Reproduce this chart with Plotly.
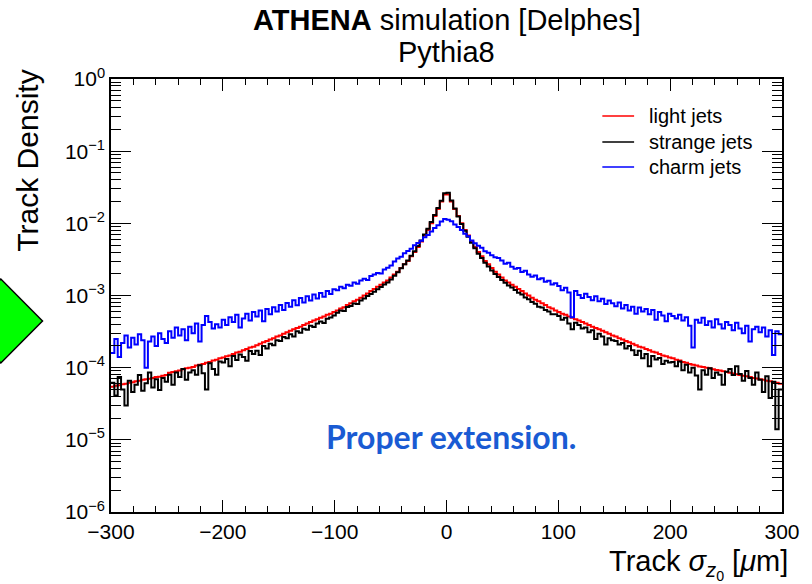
import plotly.graph_objects as go

# ---------------- data (bin width 3 um, from -300 to 300) ----------------
BIN_LO, BIN_HI, BIN_W = -300, 300, 3

light_jets = [
    5.45e-5, 5.6e-5, 5.7e-5, 5.9e-5, 6.0e-5, 6.2e-5, 6.3e-5, 6.5e-5, 6.6e-5, 6.8e-5, 6.9e-5, 7.0e-5, 7.2e-5, 7.4e-5, 7.5e-5, 7.7e-5, 7.9e-5,
    8.5e-5, 8.7e-5, 8.9e-5, 9.1e-5, 9.5e-5, 9.8e-5, 1.0e-4, 1.02e-4, 1.07e-4, 1.1e-4, 1.12e-4, 1.17e-4, 1.2e-4, 1.26e-4, 1.29e-4, 1.35e-4,
    1.38e-4, 1.44e-4, 1.48e-4, 1.55e-4, 1.62e-4, 1.66e-4, 1.74e-4, 1.82e-4, 1.9e-4, 1.95e-4, 2.05e-4, 2.15e-4, 2.25e-4, 2.35e-4, 2.45e-4, 2.55e-4, 2.7e-4,
    2.8e-4, 2.95e-4, 3.1e-4, 3.25e-4, 3.4e-4, 3.55e-4, 3.7e-4, 3.9e-4, 4.1e-4, 4.3e-4, 4.5e-4, 4.7e-4, 4.9e-4, 5.1e-4, 5.4e-4, 5.6e-4, 5.9e-4,
    6.2e-4, 6.6e-4, 6.9e-4, 7.4e-4, 7.8e-4, 8.3e-4, 8.7e-4, 9.3e-4, 1.0e-3, 1.07e-3, 1.15e-3, 1.23e-3, 1.32e-3, 1.41e-3, 1.51e-3, 1.62e-3, 1.78e-3,
    1.95e-3, 2.14e-3, 2.4e-3, 2.7e-3, 3.0e-3, 3.5e-3, 4.0e-3, 4.7e-3, 5.6e-3, 6.8e-3, 8.1e-3, 1.0e-2, 1.26e-2, 1.58e-2, 2.0e-2, 2.5e-2,
    2.5e-2, 2.0e-2, 1.58e-2, 1.26e-2, 1.0e-2, 8.1e-3, 6.8e-3, 5.6e-3, 4.7e-3, 4.0e-3, 3.5e-3, 3.0e-3, 2.7e-3, 2.4e-3, 2.14e-3, 1.95e-3,
    1.78e-3, 1.62e-3, 1.51e-3, 1.41e-3, 1.32e-3, 1.23e-3, 1.15e-3, 1.07e-3, 1.0e-3, 9.3e-4, 8.7e-4, 8.3e-4, 7.8e-4, 7.4e-4, 6.9e-4, 6.6e-4, 6.2e-4,
    5.9e-4, 5.6e-4, 5.4e-4, 5.1e-4, 4.9e-4, 4.7e-4, 4.5e-4, 4.3e-4, 4.1e-4, 3.9e-4, 3.7e-4, 3.55e-4, 3.4e-4, 3.25e-4, 3.1e-4, 2.95e-4, 2.8e-4,
    2.7e-4, 2.55e-4, 2.45e-4, 2.35e-4, 2.25e-4, 2.15e-4, 2.05e-4, 1.95e-4, 1.9e-4, 1.82e-4, 1.74e-4, 1.66e-4, 1.62e-4, 1.55e-4, 1.48e-4, 1.44e-4, 1.38e-4,
    1.35e-4, 1.29e-4, 1.26e-4, 1.2e-4, 1.17e-4, 1.12e-4, 1.1e-4, 1.07e-4, 1.04e-4, 1.02e-4, 1.0e-4, 9.8e-5, 9.5e-5, 9.3e-5, 9.1e-5, 8.9e-5, 8.7e-5,
    8.5e-5, 8.3e-5, 8.1e-5, 7.9e-5, 7.7e-5, 7.6e-5, 7.4e-5, 7.2e-5, 7.1e-5, 6.9e-5, 6.8e-5, 6.6e-5, 6.5e-5, 6.3e-5, 6.2e-5, 6.0e-5,
]

strange_jets = [
    6.2e-5, 4.1e-5, 7.4e-5, 5.0e-5, 3.0e-5, 6.6e-5, 4.6e-5, 5.8e-5, 7.9e-5, 4.8e-5, 6.1e-5, 8.6e-5, 5.3e-5, 6.9e-5, 4.9e-5, 7.2e-5, 6.4e-5,
    8.0e-5, 5.8e-5, 8.6e-5, 7.4e-5, 9.6e-5, 6.8e-5, 8.6e-5, 9.2e-5, 8.0e-5, 1.08e-4, 8.4e-5, 5.0e-5, 1.15e-4, 9.6e-5, 8.0e-5, 1.22e-4,
    1.18e-4, 1.32e-4, 1.05e-4, 1.45e-4, 1.28e-4, 1.52e-4, 1.40e-4, 1.25e-4, 1.70e-4, 1.55e-4, 1.72e-4, 1.50e-4, 2.0e-4, 1.85e-4, 2.15e-4, 2.05e-4, 2.40e-4,
    2.35e-4, 2.65e-4, 2.55e-4, 2.90e-4, 2.70e-4, 3.20e-4, 3.05e-4, 3.45e-4, 3.35e-4, 3.80e-4, 3.65e-4, 4.10e-4, 4.35e-4, 4.15e-4, 4.75e-4, 4.95e-4, 5.30e-4,
    5.75e-4, 6.20e-4, 6.10e-4, 6.95e-4, 7.15e-4, 7.75e-4, 7.65e-4, 8.50e-4, 9.10e-4, 9.85e-4, 1.05e-3, 1.13e-3, 1.22e-3, 1.31e-3, 1.42e-3, 1.51e-3, 1.67e-3,
    1.88e-3, 2.10e-3, 2.38e-3, 2.72e-3, 3.05e-3, 3.55e-3, 4.10e-3, 4.85e-3, 5.80e-3, 7.00e-3, 8.40e-3, 1.04e-2, 1.30e-2, 1.63e-2, 2.06e-2, 2.62e-2,
    2.66e-2, 2.08e-2, 1.60e-2, 1.24e-2, 9.8e-3, 7.9e-3, 6.5e-3, 5.4e-3, 4.5e-3, 3.8e-3, 3.3e-3, 2.85e-3, 2.52e-3, 2.22e-3, 1.98e-3, 1.80e-3,
    1.64e-3, 1.50e-3, 1.38e-3, 1.29e-3, 1.19e-3, 1.09e-3, 1.03e-3, 9.4e-4, 8.9e-4, 8.1e-4, 7.7e-4, 7.0e-4, 6.8e-4, 6.3e-4, 6.0e-4, 5.5e-4, 5.5e-4,
    5.2e-4, 4.6e-4, 4.9e-4, 4.1e-4, 3.4e-4, 4.2e-4, 3.9e-4, 3.5e-4, 3.6e-4, 3.1e-4, 3.3e-4, 2.5e-4, 2.95e-4, 2.7e-4, 2.1e-4, 2.55e-4, 2.4e-4,
    2.35e-4, 2.1e-4, 2.2e-4, 1.85e-4, 2.0e-4, 1.75e-4, 1.5e-4, 1.72e-4, 1.35e-4, 1.55e-4, 1.05e-4, 1.45e-4, 1.3e-4, 1.36e-4, 1.12e-4, 1.25e-4, 1.18e-4,
    1.2e-4, 1.05e-4, 1.22e-4, 9.2e-5, 1.1e-4, 8.6e-5, 1.0e-4, 7.8e-5, 5.0e-5, 9.2e-5, 8.0e-5, 9.8e-5, 7.2e-5, 8.6e-5, 8.0e-5, 5.8e-5, 8.8e-5,
    9.6e-5, 7.9e-5, 1.05e-4, 8.2e-5, 6.6e-5, 9.0e-5, 7.2e-5, 5.8e-5, 8.6e-5, 6.8e-5, 4.6e-5, 7.6e-5, 3.8e-5, 6.4e-5, 1.4e-5, 5.0e-5,
]

charm_jets = [
    1.6e-4, 2.5e-4, 1.4e-4, 2.2e-4, 2.8e-4, 1.9e-4, 2.6e-4, 2.1e-4, 2.9e-4, 2.4e-4, 1.0e-4, 2.3e-4, 2.7e-4, 2.0e-4, 3.0e-4, 2.5e-4, 2.2e-4,
    3.2e-4, 2.6e-4, 3.6e-4, 2.8e-4, 3.4e-4, 2.4e-4, 3.7e-4, 3.0e-4, 4.1e-4, 2.3e-4, 3.9e-4, 5.2e-4, 4.3e-4, 3.5e-4, 4.0e-4, 3.6e-4,
    4.6e-4, 3.9e-4, 5.0e-4, 4.3e-4, 5.4e-4, 3.6e-4, 4.8e-4, 5.6e-4, 4.5e-4, 5.9e-4, 5.1e-4, 6.2e-4, 4.4e-4, 6.5e-4, 5.5e-4, 6.9e-4, 6.0e-4,
    7.4e-4, 6.3e-4, 7.9e-4, 7.0e-4, 8.6e-4, 7.3e-4, 9.2e-4, 8.0e-4, 9.8e-4, 8.5e-4, 1.03e-3, 9.1e-4, 1.08e-3, 9.6e-4, 1.15e-3, 1.05e-3, 1.22e-3,
    1.18e-3, 1.32e-3, 1.26e-3, 1.41e-3, 1.36e-3, 1.52e-3, 1.45e-3, 1.62e-3, 1.70e-3, 1.64e-3, 1.86e-3, 1.95e-3, 2.05e-3, 2.02e-3, 2.30e-3, 2.42e-3, 2.60e-3,
    2.95e-3, 3.25e-3, 3.45e-3, 3.85e-3, 4.15e-3, 4.45e-3, 4.95e-3, 5.35e-3, 5.75e-3, 6.40e-3, 6.90e-3, 7.70e-3, 8.60e-3, 9.40e-3, 1.06e-2, 1.15e-2,
    1.12e-2, 1.07e-2, 9.6e-3, 8.9e-3, 8.1e-3, 7.2e-3, 6.6e-3, 5.8e-3, 5.3e-3, 4.9e-3, 4.6e-3, 4.1e-3, 3.9e-3, 3.6e-3, 3.4e-3, 3.3e-3,
    3.05e-3, 2.75e-3, 2.85e-3, 2.50e-3, 2.35e-3, 2.40e-3, 2.12e-3, 2.20e-3, 1.95e-3, 1.82e-3, 1.90e-3, 1.68e-3, 1.74e-3, 1.55e-3, 1.60e-3, 1.42e-3, 1.48e-3,
    1.35e-3, 1.18e-3, 1.28e-3, 1.10e-3, 5.0e-4, 1.15e-3, 1.02e-3, 9.2e-4, 1.06e-3, 9.5e-4, 8.6e-4, 9.8e-4, 8.3e-4, 9.0e-4, 7.6e-4, 8.5e-4, 7.8e-4,
    7.1e-4, 8.0e-4, 6.6e-4, 7.4e-4, 6.2e-4, 7.0e-4, 5.6e-4, 6.8e-4, 6.0e-4, 6.5e-4, 5.5e-4, 6.3e-4, 4.6e-4, 5.9e-4, 5.3e-4, 4.4e-4, 5.6e-4,
    5.2e-4, 4.8e-4, 5.4e-4, 4.5e-4, 5.0e-4, 3.8e-4, 1.9e-4, 4.6e-4, 4.2e-4, 4.9e-4, 3.9e-4, 4.4e-4, 3.6e-4, 4.7e-4, 4.0e-4, 3.5e-4, 4.3e-4,
    3.9e-4, 3.3e-4, 4.2e-4, 3.5e-4, 3.0e-4, 3.8e-4, 2.3e-4, 3.4e-4, 3.7e-4, 3.1e-4, 3.6e-4, 2.7e-4, 3.3e-4, 1.5e-4, 3.2e-4, 2.9e-4,
]

series_names = ["light jets", "strange jets", "charm jets"]
series_colors = ["#ff0000", "#000000", "#0000ff"]

y_tick_vals = [1e-6, 1e-5, 1e-4, 1e-3, 1e-2, 1e-1, 1e0]
y_tick_text = ["10<sup>\u22126</sup>", "10<sup>\u22125</sup>", "10<sup>\u22124</sup>", "10<sup>\u22123</sup>",
               "10<sup>\u22122</sup>", "10<sup>\u22121</sup>", "10<sup>0</sup>"]

nbins = (BIN_HI - BIN_LO) // BIN_W
for s in (light_jets, strange_jets, charm_jets):
    assert len(s) == nbins, len(s)
edges = [BIN_LO + BIN_W * i for i in range(nbins + 1)]

# ---------------- layout geometry ----------------
W, H = 812, 584
ML, MR, MT, MB = 111, 25, 79, 72
PW, PH = W - ML - MR, H - MT - MB

def px(xp):  # pixel x -> paper x
    return (xp - ML) / PW

def py(yp):  # pixel y -> paper y
    return (H - MB - yp) / PH

FONT = "Liberation Sans, Arial, Helvetica, sans-serif"

fig = go.Figure()
for name, col, vals in zip(series_names, series_colors, [light_jets, strange_jets, charm_jets]):
    fig.add_trace(go.Scatter(
        x=edges, y=list(vals) + [vals[-1]], mode="lines", name=name,
        line=dict(shape="hv", color=col, width=2), showlegend=False,
    ))

minor_y = [k * v for v in y_tick_vals[:-1] for k in range(2, 10)]

fig.update_layout(
    width=W, height=H,
    margin=dict(l=ML, r=MR, t=MT, b=MB),
    paper_bgcolor="white", plot_bgcolor="white",
    font=dict(family=FONT, color="black", size=20),
    showlegend=False,
    xaxis=dict(range=[-300, 300], showgrid=False, zeroline=False,
               showline=True, linecolor="black", linewidth=1.5, mirror="allticks",
               ticks="inside", ticklen=12, tickwidth=1, tickcolor="black",
               dtick=100, tick0=0,
               tickfont=dict(family=FONT, size=21),
               minor=dict(ticks="inside", ticklen=6, dtick=20, tick0=0, tickcolor="black", showgrid=False)),
    yaxis=dict(type="log", range=[-6, 0], showgrid=False, zeroline=False,
               showline=True, linecolor="black", linewidth=1.5, mirror="allticks",
               ticks="inside", ticklen=20, tickwidth=1, tickcolor="black",
               tickvals=y_tick_vals, ticktext=y_tick_text,
               tickfont=dict(family=FONT, size=21),
               minor=dict(ticks="inside", ticklen=10, tickvals=minor_y, tickcolor="black", showgrid=False)),
)

# legend (ROOT-style, no frame)
leg_rows_y = [116, 142, 167]
for name, col, ry in zip(series_names, series_colors, leg_rows_y):
    fig.add_shape(type="line", xref="paper", yref="paper",
                  x0=px(606), x1=px(638), y0=py(ry), y1=py(ry),
                  line=dict(color=col, width=1.5))
    fig.add_annotation(xref="paper", yref="paper", x=px(651), y=py(ry), xanchor="left", yanchor="middle",
                       text=name, showarrow=False, font=dict(family=FONT, size=20, color="black"))

# green diamond at left edge
d_tip_x, d_cy, d_half = 42, 321, 42
fig.add_shape(type="path", xref="paper", yref="paper",
              path=(f"M {px(d_tip_x)} {py(d_cy)} L {px(d_tip_x - d_half)} {py(d_cy - d_half)} "
                    f"L {px(d_tip_x - 2 * d_half)} {py(d_cy)} L {px(d_tip_x - d_half)} {py(d_cy + d_half)} Z"),
              fillcolor="#00ff00", line=dict(color="black", width=1.5), layer="above")

# title (centred over the frame)
fig.add_annotation(xref="paper", yref="paper", x=0.5, y=py(38), xanchor="center", yanchor="bottom",
                   text="<b>ATHENA</b> simulation [Delphes]", showarrow=False,
                   font=dict(family=FONT, size=29, color="black"))
fig.add_annotation(xref="paper", yref="paper", x=0.5, y=py(70), xanchor="center", yanchor="bottom",
                   text="Pythia8", showarrow=False,
                   font=dict(family=FONT, size=29, color="black"))

# axis titles (ROOT-style, right/top aligned)
fig.add_annotation(xref="paper", yref="paper", x=px(794), y=py(585), xanchor="right", yanchor="bottom",
                   text="Track <i>\u03c3</i><sub><i>z</i><sub>0</sub></sub> [<i>\u03bc</i>m]", showarrow=False,
                   font=dict(family=FONT, size=29, color="black"), borderpad=0)
fig.add_annotation(xref="paper", yref="paper", x=px(26), y=py(68), xanchor="center", yanchor="top",
                   text="Track Density", textangle=-90, showarrow=False,
                   font=dict(family=FONT, size=30, color="black"))

# overlay note
fig.add_annotation(xref="paper", yref="paper", x=px(454), y=py(436), xanchor="center", yanchor="middle",
                   text="<b>Proper extension.</b>", showarrow=False,
                   font=dict(family="Lato, sans-serif", size=32, color="#1a5bd3"))

fig.write_html("out.html")
